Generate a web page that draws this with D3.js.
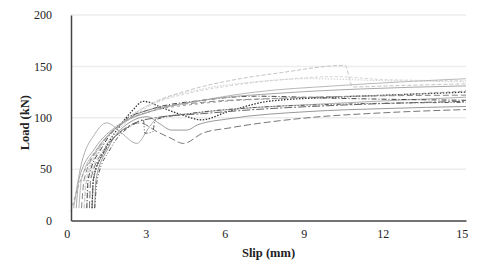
<!DOCTYPE html>
<html>
<head>
<meta charset="utf-8">
<script src="https://cdn.jsdelivr.net/npm/d3@7"></script>
<style>
  body { margin: 0; background: #fff; }
  svg { display: block; }
</style>
</head>
<body>
<div id="chart"></div>
<script>
// tick values
const xTicks = [0, 3, 6, 9, 12, 15];
const yTicks = [0, 50, 100, 150, 200];

// load-slip curves, [slip mm, load kN]
const s1 = [[0.8,12],[0.85,40],[1.2,65],[1.8,90],[2.3,106],[2.75,116],[3.5,109.3],[4.2,103],[4.96,98],[5.96,106],[7.5,116],[10,120],[12,122],[15,125]];
const s2 = [[0.5,12],[0.6,40],[1.1,70],[2,96],[3,113],[4.5,127],[6,136],[8,144],[10.4,151],[10.7,130],[12,131],[15,133]];
const s3 = [[0.6,12],[0.7,40],[1.3,72],[2.2,98],[3.2,114],[4.5,124],[6,131],[8,137],[10,140],[12,137],[15,136]];
const s4 = [[0.3,12],[0.4,40],[1,70],[2,95],[3,106],[5,117],[7,125],[10,131],[15,138]];
const s5 = [[0.1,12],[0.35,50],[0.9,84],[1.36,95],[1.9,85.5],[2.5,75],[2.95,90],[3.3,100],[4.5,104],[6,108],[10,114],[15,120]];
const s6 = [[0.9,12],[0.95,40],[1.4,70],[2.2,95],[2.9,101],[3.35,94.5],[3.82,88],[4.4,88],[4.8,93],[6,99],[9,106],[12,109],[15,111]];
const s7 = [[0.7,12],[0.75,40],[1.3,70],[2,88],[2.6,95],[3.3,86],[3.8,80],[4.27,75],[5,85],[6,90],[9,100],[12,105],[15,108]];
const s8 = [[0.6,12],[0.65,40],[1.2,72],[2,97],[3,108],[5,117],[7,121],[10,119],[12,118],[15,117]];
const s9 = [[0.4,12],[0.5,40],[1.1,72],[2,96],[3,108],[5,115],[8,119],[11,121],[15,122]];
const s10 = [[0.9,12],[1,40],[1.5,70],[2.4,94],[2.75,98],[2.8,85],[3.1,86],[3.2,98],[4.5,104],[7,110],[10,113],[15,115]];
const s11 = [[0.2,12],[0.3,40],[0.9,70],[1.8,93],[3,106],[5,117],[8,124],[11,128],[15,131]];
const s12 = [[0.5,12],[0.55,40],[1.1,72],[2,97],[3.2,115],[5,128],[7,135],[9,138],[12,136],[15,135]];
const s13 = [[0.8,12],[0.85,40],[1.3,68],[2.2,92],[3.2,100],[5,104],[7,108],[10,112],[15,116]];
const s14 = [[0,9],[0.3,35],[0.8,62],[1.5,85],[2.3,100],[3,106],[5,114],[8,119],[12,122],[15,126]];

const series = [s1, s2, s3, s4, s5, s6, s7, s8, s9, s10, s11, s12, s13, s14];

const styles = [
  { color: "#333", dash: "1.5,1.5", w: 1.3 },
  { color: "#c4c4c4", dash: "4,2", w: 1 },
  { color: "#d4d4d4", dash: "3,2", w: 1 },
  { color: "#b8b8b8", dash: null, w: 1 },
  { color: "#b0b0b0", dash: null, w: 1 },
  { color: "#999", dash: null, w: 1 },
  { color: "#777", dash: "7,3", w: 1 },
  { color: "#444", dash: "5,2,1,2", w: 1 },
  { color: "#888", dash: "6,3", w: 1 },
  { color: "#555", dash: "4,2,1,2,1,2", w: 1 },
  { color: "#a8a8a8", dash: null, w: 1 },
  { color: "#cfcfcf", dash: "1.5,1.5", w: 1 },
  { color: "#666", dash: "8,2,2,2", w: 1 },
  { color: "#999", dash: "3,3", w: 1 }
];

const width = 491, height = 274;
const margin = { top: 15, right: 25, bottom: 53.5, left: 71 };

const svg = d3.select("#chart").append("svg")
  .attr("width", width)
  .attr("height", height);

const x = d3.scaleLinear().domain([0, 15]).range([margin.left, width - margin.right]);
const y = d3.scaleLinear().domain([0, 200]).range([height - margin.bottom, margin.top]);

// gridlines
svg.append("g").selectAll("line")
  .data(yTicks.slice(1))
  .join("line")
  .attr("x1", x(0)).attr("x2", x(15))
  .attr("y1", d => y(d)).attr("y2", d => y(d))
  .attr("stroke", "#ececec")
  .attr("stroke-width", 1.5);

const line = d3.line()
  .x(d => x(d[0]))
  .y(d => y(d[1]))
  .curve(d3.curveMonotoneX);

svg.append("g").selectAll("path")
  .data(series)
  .join("path")
  .attr("fill", "none")
  .attr("stroke", (d, i) => styles[i].color)
  .attr("stroke-width", (d, i) => styles[i].w)
  .attr("stroke-dasharray", (d, i) => styles[i].dash)
  .attr("d", line);

// axes
const xAxis = svg.append("g")
  .attr("transform", `translate(0,${y(0)})`)
  .call(d3.axisBottom(x).tickValues(xTicks).tickSize(0).tickPadding(9));
xAxis.select(".domain").attr("stroke", "#444").attr("stroke-width", 1.5);
xAxis.selectAll(".tick text").attr("dx", "-4.3");

const yAxis = svg.append("g")
  .attr("transform", `translate(${x(0)},0)`)
  .call(d3.axisLeft(y).tickValues(yTicks).tickSize(0).tickPadding(19));
yAxis.select(".domain").attr("stroke", "#444").attr("stroke-width", 1.5);

svg.selectAll(".tick text")
  .style("font-family", "'Liberation Serif', 'Times New Roman', serif")
  .style("font-size", "12px")
  .attr("fill", "#222");

svg.append("text")
  .attr("x", (x(0) + x(15)) / 2)
  .attr("y", 257)
  .attr("text-anchor", "middle")
  .style("font-family", "'Liberation Serif', 'Times New Roman', serif")
  .style("font-size", "12.5px")
  .style("font-weight", "bold")
  .attr("fill", "#222")
  .text("Slip (mm)");

svg.append("text")
  .attr("transform", `translate(29,${(y(0) + y(200)) / 2 + 5}) rotate(-90)`)
  .attr("text-anchor", "middle")
  .style("font-family", "'Liberation Serif', 'Times New Roman', serif")
  .style("font-size", "12.5px")
  .style("font-weight", "bold")
  .attr("fill", "#222")
  .text("Load (kN)");
</script>
</body>
</html>
